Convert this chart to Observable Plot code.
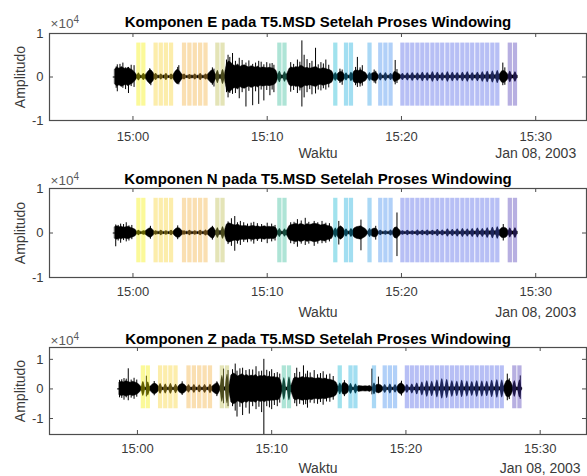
<!DOCTYPE html>
<html>
<head>
<meta charset="utf-8">
<script src="https://cdn.jsdelivr.net/npm/d3@7"></script>
<script src="https://cdn.jsdelivr.net/npm/@observablehq/plot@0.6"></script>
<style>
  body { margin: 0; background: #fff; }
  #chart svg { display: block; }
</style>
</head>
<body>
<div id="chart"></div>
<script>
// All times are seconds relative to 15:00:00 (UTC), Jan 08, 2003.
const origin = Date.UTC(2003, 0, 8, 15, 0, 0);
const traceStart = -88;      // first sample of the records
const traceEnd = 1718;       // last sample of the records
const envelopeStart = -80;   // time of the first envelope value
const envelopeStep = 10;     // seconds between envelope values
const windowLength = 19;     // seconds per analysis window
const bandLow = -6700, bandHigh = 7800; // vertical extent of window bands (counts)

// Start times of the analysis windows, one list per cluster.
const windowGroups = [
  [17, 39],
  [94, 117, 140, 163],
  [221, 245, 269, 293, 317],
  [370, 393],
  [647, 670],
  [897],
  [945, 967],
  [1050],
  [1098, 1121, 1144],
  [1197, 1219, 1241, 1264, 1286, 1308, 1331, 1353, 1375, 1398,
   1420, 1442, 1465, 1487, 1509, 1532, 1554, 1576, 1599, 1621],
  [1677, 1700]
];

// Trace envelope (half peak-to-peak, counts), one value every 10 s from -80 s.
const envelopeE = [
  1700, 2200, 1900, 2300, 2000, 1800, 2100, 1800, 1500, 1000,
  300, 350, 300, 250, 600, 1300, 1600, 1100, 300, 350,
  300, 250, 350, 300, 250, 300, 350, 1200, 1700, 1300,
  600, 300, 250, 300, 350, 300, 250, 300, 350, 300,
  300, 350, 800, 1400, 1600, 600, 400, 450, 400, 450,
  3000, 3600, 3200, 2700, 2500, 2900, 2300, 2600, 2700, 2400,
  2200, 2500, 2300, 2100, 2400, 2000, 2200, 2100, 2000, 2100,
  2000, 1900, 1500, 350, 400, 350, 400, 700, 1900, 2200,
  2000, 2300, 2100, 2600, 2400, 2000, 2100, 1900, 2000, 2200,
  2300, 1900, 1800, 2000, 1900, 1700, 1600, 1300, 350, 350,
  900, 1200, 1000, 300, 350, 300, 350, 1300, 1500, 1400,
  1600, 1200, 1000, 300, 350, 800, 1000, 900, 300, 350,
  300, 350, 300, 350, 300, 1200, 1000, 700, 300, 250,
  300, 250, 300, 350, 300, 250, 300, 350, 300, 250,
  300, 350, 300, 250, 300, 350, 300, 250, 300, 350,
  300, 250, 300, 350, 300, 250, 300, 350, 300, 350,
  300, 350, 400, 350, 300, 400, 350, 400, 450, 400,
  400, 450, 600, 1300, 1400, 1000, 350, 400, 350, 400,
  300
];
const envelopeN = [
  1300, 1500, 1300, 1400, 1200, 1300, 1400, 1200, 1000, 800,
  250, 300, 250, 300, 500, 900, 1100, 700, 250, 300,
  250, 300, 250, 300, 250, 300, 250, 800, 1100, 1000,
  500, 250, 300, 250, 300, 250, 300, 250, 300, 250,
  300, 250, 600, 1100, 1300, 500, 400, 450, 400, 450,
  1900, 2200, 2000, 1800, 1700, 1900, 1600, 1500, 1600, 1500,
  1400, 1500, 1600, 1400, 1500, 1300, 1400, 1500, 1300, 1400,
  1300, 1400, 1100, 300, 350, 300, 350, 600, 1600, 1800,
  1900, 2100, 1800, 2000, 1900, 1700, 2000, 1800, 1900, 2100,
  2000, 1900, 1700, 1800, 1900, 1600, 1500, 1300, 300, 350,
  1200, 1500, 1100, 300, 350, 300, 350, 1000, 1300, 1400,
  1500, 1200, 900, 300, 350, 800, 1000, 900, 250, 300,
  250, 300, 250, 300, 250, 1100, 1300, 800, 250, 300,
  250, 300, 250, 300, 250, 300, 250, 300, 250, 300,
  250, 300, 250, 300, 250, 300, 250, 300, 250, 300,
  300, 250, 300, 350, 300, 250, 300, 350, 300, 350,
  300, 350, 300, 350, 400, 350, 400, 350, 400, 450,
  400, 450, 600, 1100, 1200, 1000, 350, 400, 350, 400,
  300
];
const envelopeZ = [
  2100, 2400, 2200, 2600, 2300, 2100, 2400, 2200, 1900, 1300,
  400, 450, 400, 450, 800, 1600, 1800, 1300, 400, 450,
  400, 450, 400, 450, 400, 450, 400, 1300, 1700, 1500,
  700, 400, 450, 400, 450, 400, 450, 400, 450, 400,
  450, 400, 1100, 1700, 2000, 700, 500, 600, 500, 600,
  4600, 5200, 4900, 4200, 4600, 5000, 4400, 4700, 4200, 4500,
  4300, 4700, 4000, 4400, 4200, 4500, 4000, 4200, 3900, 4000,
  3800, 3900, 3000, 500, 600, 500, 600, 1300, 3500, 3900,
  3500, 3800, 4000, 3700, 3900, 3600, 3800, 3500, 3400, 3600,
  3500, 3300, 3500, 3200, 3100, 2900, 2700, 2100, 500, 450,
  1900, 2000, 1500, 400, 450, 400, 450, 1000, 900, 800,
  900, 800, 1000, 500, 450, 1300, 1500, 1200, 400, 450,
  400, 450, 400, 450, 400, 1500, 1900, 1400, 400, 450,
  400, 450, 500, 450, 500, 550, 500, 600, 550, 600,
  550, 600, 550, 600, 550, 600, 550, 600, 550, 600,
  550, 600, 550, 600, 550, 600, 550, 600, 550, 600,
  550, 600, 550, 600, 550, 600, 550, 600, 550, 600,
  550, 600, 900, 2600, 2900, 2300, 500, 550, 500, 550,
  300
];

// Peak amplitude of the tapered trace inside each window (counts), in window order.
const windowPeakE = [
  900, 800,
  800, 700, 800, 700,
  700, 600, 700, 800, 700,
  1500, 1700,
  1300, 1200,
  1000,
  900, 1100,
  1000,
  900, 1000, 800,
  800, 900, 1000, 900, 1100, 1000, 1200, 1100, 1000, 1200,
  1100, 1000, 1100, 1200, 1000, 1100, 1200, 1300, 1400, 1500,
  1300, 1200
];
const windowPeakN = [
  600, 500,
  500, 600, 500, 600,
  500, 600, 500, 600, 700,
  1200, 1400,
  1000, 900,
  1100,
  900, 1000,
  1000,
  600, 500, 700,
  500, 600, 500, 700, 600, 700, 600, 800, 700, 900,
  800, 900, 1000, 900, 1000, 1100, 1000, 1200, 1300, 1400,
  1100, 1200
];
const windowPeakZ = [
  2500, 2300,
  1800, 1700, 1800, 1600,
  1400, 1500, 1300, 1500, 1600,
  4500, 5000,
  3800, 4000,
  2000,
  1800, 1700,
  2000,
  1500, 1700, 1400,
  1500, 1700, 2000, 2300, 2800, 2600, 3000, 3400, 3200, 2800,
  2600, 2900, 2700, 2500, 2800, 2700, 2600, 2900, 3100, 3000,
  2800, 3000
];

// Isolated large swings: [time (s), minimum, maximum] in counts.
const spikesE = [
  [-75, -2600, 2300], [-70, -3400, 2800], [-58, -2000, 2900], [-45, -2600, 3200],
  [-33, -2900, 2100], [-20, -3800, 2200], [-8, -2200, 2700], [5, -2400, 2600],
  [75, -1700, 1900], [80, -2000, 1500], [200, -1600, 2200], [205, -1800, 2600],
  [355, -1900, 2100], [362, -2300, 1800],
  [418, -3600, 3900], [425, -4800, 5000], [433, -3800, 4500], [445, -4000, 5400],
  [458, -3800, 3600], [475, -5000, 4300], [488, -3600, 3800], [505, -6900, 3200],
  [518, -3300, 3700], [535, -6600, 2900], [548, -3400, 3200], [562, -6300, 3600],
  [573, -3000, 3400], [585, -5500, 2800], [598, -3100, 3300], [612, -4300, 3000],
  [622, -3000, 3100], [630, -3600, 2700],
  [705, -3500, 3300], [718, -3100, 2900], [735, -3800, 3900], [746, -3200, 3400],
  [755, -6900, 8300], [765, -4800, 5000], [778, -3600, 4000], [790, -2900, 3100],
  [800, -4100, 3600], [816, -3900, 6600], [828, -3000, 2800], [840, -3200, 3300],
  [851, -2700, 3000], [862, -3000, 3900], [875, -2500, 2700],
  [925, -1500, 1800], [935, -1900, 1600],
  [995, -2000, 2200], [1003, -2400, 4500], [1015, -2300, 2100], [1025, -2100, 2600],
  [1078, -1400, 1600], [1085, -1600, 1300],
  [1172, -1800, 3800], [1180, -1500, 1700], [1653, -2000, 3200], [1662, -1900, 2100]
];
const spikesN = [
  [-77, -3100, 1800], [-66, -1800, 1700], [-55, -2300, 2000], [-42, -1700, 1900],
  [-30, -2000, 2300], [-18, -1800, 1600], [-5, -1500, 1700],
  [78, -1400, 1500], [200, -1500, 1600], [355, -1600, 1500],
  [425, -2600, 2500], [440, -3000, 3200], [455, -4100, 3700], [467, -2500, 2300],
  [480, -2800, 2600], [495, -2100, 2300], [512, -2200, 2000], [528, -2000, 2200],
  [540, -2500, 2400], [556, -1900, 2100], [575, -2100, 1900], [600, -2400, 2200],
  [620, -2000, 2000], [635, -1800, 1700],
  [705, -2400, 2300], [720, -2600, 2400], [735, -3200, 3000], [752, -2500, 2700],
  [770, -2800, 3300], [786, -2500, 2400], [810, -3000, 2600], [826, -2500, 2300],
  [845, -2400, 2600], [862, -2300, 2200], [878, -2000, 2100],
  [920, -2700, 2600], [1019, -4000, 2900], [1085, -1600, 1500], [1180, -5300, 4500],
  [1655, -1800, 1900]
];
const spikesZ = [
  [-80, -3000, 2900], [-70, -3200, 3100], [-60, -3800, 3500], [-50, -3000, 3300],
  [-41, -4000, 6800], [-28, -3100, 3000], [-15, -3500, 3600], [-3, -2800, 3000],
  [40, -2700, 4300], [75, -2300, 2500], [200, -2200, 2400], [355, -2600, 2400],
  [385, -5000, 6700], [405, -6000, 6200],
  [425, -6000, 6500], [437, -7500, 8400], [445, -9500, 6000], [458, -6200, 6800],
  [470, -9000, 7000], [485, -6500, 6200], [500, -8500, 6500], [515, -6000, 6400],
  [530, -7000, 7500], [543, -6200, 5800], [555, -8000, 6000], [565, -15400, 10000],
  [578, -6000, 6300], [590, -6400, 5800], [600, -7000, 6500], [612, -5600, 5200],
  [625, -6000, 5500], [636, -4800, 5000],
  [703, -5000, 5200], [712, -6000, 7000], [725, -5200, 5600], [742, -5500, 7800],
  [752, -5300, 5000], [760, -6500, 6000], [772, -4800, 5400], [790, -5000, 6200],
  [805, -5200, 4800], [818, -4600, 5200], [830, -5500, 5800], [845, -4400, 4700],
  [860, -4500, 5000], [875, -3800, 4200],
  [925, -2600, 2800], [1048, -2000, 6700], [1077, -1500, 4000], [1180, -2400, 2600],
  [1653, -4000, 5000], [1662, -3600, 3400], [1711, -3500, 4400]
];

// Axis ticks
const xTickLabels = ["15:00", "15:10", "15:20", "15:30"];
const yTickLabels = [-1, 0, 1];   // in units of 10^4
const dateLabel = "Jan 08, 2003";

// Window fill colours, one per cluster (parula, reversed in time).
const groupColors = ["#f4f000", "#f8d22c", "#f2ae3c", "#bcbc4c", "#34bc98", "#14b6d2",
                     "#16acdc", "#2a9ee6", "#3c8aee", "#4c5ee6", "#4a38b4"];

const at = t => new Date(origin + t * 1000);
const parseTick = d3.utcParse("%Y-%m-%d %H:%M");
const xTicks = xTickLabels.map(s => parseTick("2003-01-08 " + s));
const yTicks = yTickLabels.map(v => v * 1e4);

const windows = windowGroups.flatMap((g, gi) => g.map(s => ({start: s, group: gi})));

const panels = [
  {comp: "E", envelope: envelopeE, peaks: windowPeakE, spikes: spikesE,
   yDomain: [-10000, 10000], xDomain: [-373, 2027],
   height: 160, marginTop: 33, marginBottom: 40, titleGap: 7, tickPad: 11, labelGap: 33},
  {comp: "N", envelope: envelopeN, peaks: windowPeakN, spikes: spikesN,
   yDomain: [-10000, 10000], xDomain: [-373, 2027],
   height: 157, marginTop: 28, marginBottom: 40, titleGap: 5, tickPad: 9, labelGap: 35},
  {comp: "Z", envelope: envelopeZ, peaks: windowPeakZ, spikes: spikesZ,
   yDomain: [-15400, 14000], xDomain: [-393, 2007],
   height: 159, marginTop: 30, marginBottom: 42, titleGap: 4, tickPad: 9, labelGap: 34}
];

const W = 587, marginLeft = 49, marginRight = 1;
const axisColor = "#4d4d4d";
const chart = document.getElementById("chart");

for (const p of panels) {
  const frameH = p.height - p.marginTop - p.marginBottom;
  const frameW = W - marginLeft - marginRight;
  const env = p.envelope.map((a, i) => ({date: at(envelopeStart + i * envelopeStep), a}));
  const beads = windows.flatMap((w, k) => [
    {date: at(w.start), v: 0, k},
    {date: at(w.start + windowLength / 2), v: p.peaks[k], k},
    {date: at(w.start + windowLength), v: 0, k}
  ]);
  const bands = windows.map(w => ({x1: at(w.start), x2: at(w.start + windowLength), group: w.group}));

  const svg = Plot.plot({
    width: W,
    height: p.height,
    marginLeft, marginRight,
    marginTop: p.marginTop,
    marginBottom: p.marginBottom,
    style: {fontFamily: "'Liberation Sans', Arial, Helvetica, sans-serif", color: "#3a3a3a", background: "#fff", overflow: "visible"},
    x: {type: "utc", domain: [at(p.xDomain[0]), at(p.xDomain[1])]},
    y: {domain: p.yDomain},
    marks: [
      // seismic trace
      Plot.ruleY([{a: at(traceStart), b: at(traceEnd)}], {x1: "a", x2: "b", y: () => 0, stroke: "black", strokeWidth: 1.2}),
      Plot.areaY(env, {x: "date", y1: d => -d.a, y2: d => d.a, fill: "black", stroke: "black", strokeWidth: 0.5, curve: "linear"}),
      Plot.areaY(beads, {x: "date", y1: d => -d.v, y2: d => d.v, z: "k", fill: "black", curve: "natural"}),
      Plot.ruleX(p.spikes, {x: d => at(d[0]), y1: d => d[1], y2: d => d[2], stroke: "black", strokeWidth: 1, clip: true}),
      // analysis windows
      Plot.rect(bands, {x1: "x1", x2: "x2", y1: () => bandLow, y2: () => bandHigh,
        fill: d => groupColors[d.group], fillOpacity: 0.4}),
      // box with inward ticks
      Plot.frame({stroke: axisColor, strokeWidth: 1.2}),
      Plot.ruleX(xTicks, {stroke: axisColor, insetTop: frameH - 4}),
      Plot.ruleX(xTicks, {stroke: axisColor, insetBottom: frameH - 4}),
      Plot.ruleY(yTicks, {stroke: axisColor, insetRight: frameW - 4}),
      Plot.ruleY(yTicks, {stroke: axisColor, insetLeft: frameW - 4}),
      Plot.axisX({ticks: xTicks, tickFormat: d3.utcFormat("%H:%M"), tickSize: 0, tickPadding: p.tickPad, fontSize: 13, label: null}),
      Plot.axisY({ticks: yTicks, tickFormat: d => String(d / 1e4), tickSize: 0, tickPadding: 6, fontSize: 13, label: null}),
      // labels
      Plot.text([`Komponen ${p.comp} pada T5.MSD Setelah Proses Windowing`],
        {frameAnchor: "top", dy: -p.titleGap, lineAnchor: "bottom", fontWeight: "bold", fontSize: 15, fill: "black"}),
      Plot.text(["\u00d710"], {frameAnchor: "top-left", textAnchor: "start", dx: 1, dy: -p.titleGap + 1, lineAnchor: "bottom", fontSize: 13.5, fill: "#5a5a5a"}),
      Plot.text(["4"], {frameAnchor: "top-left", textAnchor: "start", dx: 24, dy: -p.titleGap - 4, lineAnchor: "bottom", fontSize: 10, fill: "#5a5a5a"}),
      Plot.text(["Amplitudo"], {frameAnchor: "left", textAnchor: "middle", rotate: -90, dx: -29, fontSize: 14}),
      Plot.text(["Waktu"], {frameAnchor: "bottom", dy: p.labelGap, lineAnchor: "middle", fontSize: 14}),
      Plot.text([dateLabel], {x: () => xTicks[xTicks.length - 1], frameAnchor: "bottom", dy: p.labelGap, lineAnchor: "middle", fontSize: 14})
    ]
  });
  chart.appendChild(svg);
}
</script>
</body>
</html>
